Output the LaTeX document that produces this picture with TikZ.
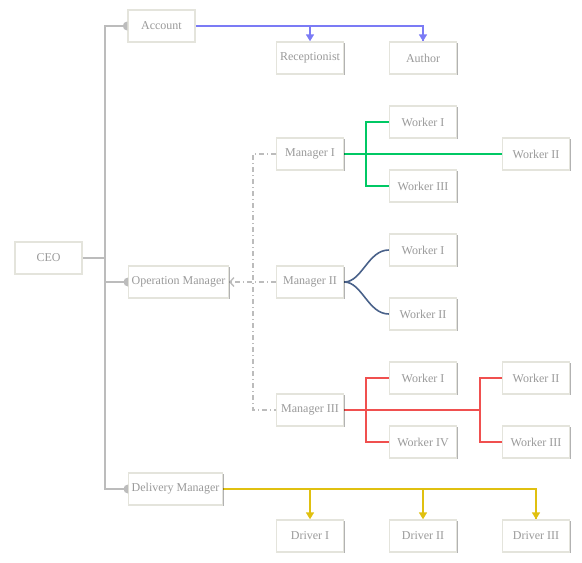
\documentclass[tikz,border=0pt]{standalone}
\usepackage{fontspec}
\setmainfont{Liberation Serif}
\usepackage{xcolor}
\usetikzlibrary{arrows.meta,backgrounds,shadows}
\definecolor{txtgray}{HTML}{9A9A9A}
\definecolor{boxline}{HTML}{E4E4DC}
\definecolor{linkgray}{HTML}{BCBCBC}
\definecolor{acctblue}{HTML}{7B7BF5}
\definecolor{mgrgreen}{HTML}{00C864}
\definecolor{mgrslate}{HTML}{4A628A}
\definecolor{mgrred}{HTML}{F0504F}
\definecolor{drvyellow}{HTML}{E0C010}

\begin{document}
\begin{tikzpicture}[x=1pt,y=-1pt,>=Latex,
    orgbox/.style={draw=boxline,line width=1.4pt,fill=white,text=txtgray,
      minimum width=67pt,minimum height=32pt,inner xsep=3pt,
      font=\fontsize{12}{14}\selectfont,
      drop shadow={shadow xshift=1.3pt,shadow yshift=-1.3pt,fill=black,opacity=0.3}},
    tree/.style={linkgray,line width=1.6pt},
    link/.style={line width=1.6pt},
    down/.style={link,-{Triangle[length=7pt,width=8pt]}},
    dashdot/.style={linkgray,line width=1.4pt,dash pattern=on 5pt off 3pt on 1pt off 3pt}]
        \useasboundingbox (0,0) rectangle (582,563);
        % top level
        \node[orgbox] (ceo) at (48.5,258) {CEO};
        \node[orgbox] (acc) at (161.5,26) {Account};
        \node[orgbox,anchor=west] (opm) at (128,282) {Operation Manager};
        \node[orgbox,anchor=west] (dlm) at (128,489) {Delivery Manager};
        % account staff
        \node[orgbox] (rec) at (310,58) {Receptionist};
        \node[orgbox] (aut) at (423,58) {Author};
        % managers
        \node[orgbox] (m1) at (310,154) {Manager I};
        \node[orgbox] (m2) at (310,282) {Manager II};
        \node[orgbox] (m3) at (310,410) {Manager III};
        % workers
        \node[orgbox] (m1w1) at (423,122) {Worker I};
        \node[orgbox] (m1w2) at (536,154) {Worker II};
        \node[orgbox] (m1w3) at (423,186) {Worker III};
        \node[orgbox] (m2w1) at (423,250) {Worker I};
        \node[orgbox] (m2w2) at (423,314) {Worker II};
        \node[orgbox] (m3w1) at (423,378) {Worker I};
        \node[orgbox] (m3w4) at (423,442) {Worker IV};
        \node[orgbox] (m3w2) at (536,378) {Worker II};
        \node[orgbox] (m3w3) at (536,442) {Worker III};
        % drivers
        \node[orgbox] (d1) at (310,536) {Driver I};
        \node[orgbox] (d2) at (423,536) {Driver II};
        \node[orgbox] (d3) at (536,536) {Driver III};
        \coordinate (trunk) at (105,258);
        \coordinate (mgrbus) at (253,282);
        % half dots where the ceo bracket meets a box
        \foreach \n in {acc,opm,dlm}{
          \begin{scope}
            \clip (\n.west) ++(-7,-7) rectangle ++(7,14);
            \fill[linkgray] (\n.west) circle (4.5pt);
          \end{scope}}
        \begin{scope}[on background layer]
        % ceo: grey bracket
        \draw[tree] (ceo.east) -- (trunk);
        \draw[tree] (acc.west) -| (trunk) |- (dlm.west);
        \draw[tree] (opm.west) -- (opm.west -| trunk);
        % account
        \draw[link,acctblue] (acc.east) -| (aut.north);
        \draw[down,acctblue] (acc.east -| rec.north) -- (rec.north);
        \draw[down,acctblue] (acc.east -| aut.north) -- (aut.north);
        % managers report to operation manager
        \draw[dashdot] (m1.west) -| (mgrbus) |- (m3.west);
        \draw[dashdot,-{Straight Barb[length=4pt,width=9pt]}] (m2.west) -- (opm.east);
        % manager I
        \draw[link,mgrgreen] (m1.east) -- (m1w2.west);
        \draw[link,mgrgreen] (m1w1.west) -| (366,154) |- (m1w3.west);
        % manager II
        \draw[link,mgrslate] (m2.east) .. controls (362,282) and (368,250) .. (m2w1.west);
        \draw[link,mgrslate] (m2.east) .. controls (362,282) and (368,314) .. (m2w2.west);
        % manager III
        \draw[link,mgrred] (m3.east) -- (480,410);
        \draw[link,mgrred] (m3w1.west) -| (366,410) |- (m3w4.west);
        \draw[link,mgrred] (m3w2.west) -| (480,410) |- (m3w3.west);
        % delivery
        \draw[link,drvyellow] (dlm.east) -| (d3.north);
        \draw[down,drvyellow] (dlm.east -| d1.north) -- (d1.north);
        \draw[down,drvyellow] (dlm.east -| d2.north) -- (d2.north);
        \draw[down,drvyellow] (dlm.east -| d3.north) -- (d3.north);
        \end{scope}
      \end{tikzpicture}
\end{document}
